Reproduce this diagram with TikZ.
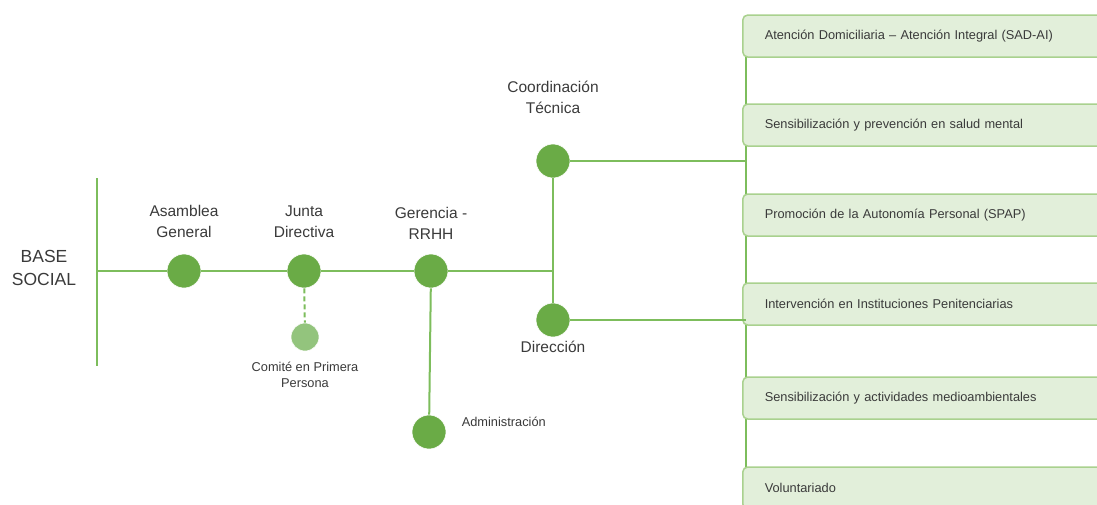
\documentclass[tikz,border=0pt]{standalone}
\usepackage{fontspec}
\setmainfont{Liberation Sans}
\usetikzlibrary{%
    backgrounds,
    positioning
}
\definecolor{dotgreen}{HTML}{6AAB46}
\definecolor{linegreen}{HTML}{7DBD5C}
\definecolor{palegreen}{HTML}{93C47D}
\definecolor{boxfill}{HTML}{E2EFDA}
\definecolor{boxline}{HTML}{A9D18E}
\definecolor{textgray}{HTML}{3A3A3A}
\tikzset{
    orgdot/.style = {circle, fill=dotgreen, draw=white, line width=.6pt, minimum size=34pt, inner sep=0pt},
    subdot/.style = {circle, fill=palegreen, draw=white, line width=.6pt, minimum size=28pt, inner sep=0pt},
    orglabel/.style = {align=center, text=textgray, font=\fontsize{15.5}{21}\selectfont},
    smalllabel/.style = {align=center, text=textgray, font=\fontsize{12.8}{16}\selectfont},
    orgline/.style = {draw=linegreen, line width=2pt},
    areabox/.style = {draw=boxline, fill=boxfill, line width=1.5pt, rounded corners=5pt,
        anchor=west, minimum height=42pt, text width=336pt, inner xsep=22pt, align=left,
        text=textgray, font=\fontsize{12.8}{14}\selectfont}
}

\begin{document}
\begin{tikzpicture}[x=1pt,y=-1pt]
    \useasboundingbox (0,0) rectangle (1097,504);

    % left side
    \node[orglabel, font=\fontsize{17.5}{23}\selectfont] (base) at (44,268) {BASE\\SOCIAL};
    \coordinate (base top) at (97,178);
    \coordinate (base bot) at (97,366);

    \node[orgdot] (asamblea) at (184,271) {};
    \node[orgdot] (junta) at (304,271) {};
    \node[orgdot] (gerencia) at (431,271) {};
    \node[orgdot] (coord) at (553,161) {};
    \node[orgdot] (direccion) at (553,320) {};
    \node[subdot] (comite) at (305,337) {};
    \node[orgdot] (admin) at (429,432) {};

    \node[orglabel] (asamblea-l) [above=13pt of asamblea] {Asamblea\\General};
    \node[orglabel] (junta-l) [above=13pt of junta] {Junta\\Directiva};
    \node[orglabel] (gerencia-l) [above=11pt of gerencia] {Gerencia -\\RRHH};
    \node[orglabel] (coord-l) [above=27pt of coord] {Coordinación\\Técnica};
    \node[orglabel] (direccion-l) [below=0pt of direccion] {Dirección};
    \node[smalllabel] (comite-l) [below=7pt of comite] {Comité en Primera\\Persona};
    \node[smalllabel, anchor=west] (admin-l) [right=12pt of admin, yshift=10pt] {Administración};

    % areas
    \coordinate (spine) at (746,0);
    \foreach \name/\y/\txt in {
        area-1/36/{Atención Domiciliaria -- Atención Integral (SAD-AI)},
        area-2/125/{Sensibilización y prevención en salud mental},
        area-3/215/{Promoción de la Autonomía Personal (SPAP)},
        area-4/304/{Intervención en Instituciones Penitenciarias},
        area-5/398/{Sensibilización y actividades medioambientales},
        area-6/488/{Voluntariado}}
        \node[areabox] (\name) at (742,\y) {\txt};

    \begin{scope}[on background layer]
        \draw[orgline] (area-1 -| spine) -- (area-6 -| spine);
    \end{scope}

    \draw[orgline] (base top) -- (base bot);
    \draw[orgline] (asamblea -| base top) -- (asamblea);
    \draw[orgline] (asamblea) -- (junta);
    \draw[orgline] (junta) -- (gerencia);
    \draw[orgline] (gerencia) -- (gerencia -| coord);
    \draw[orgline] (coord) -- (direccion);
    \draw[orgline] (coord) -- (coord -| spine);
    \draw[orgline] (direccion) -- (direccion -| spine);
    \draw[orgline, dash pattern=on 5pt off 3pt] (junta) -- (comite);
    \draw[orgline] (gerencia) -- (admin);
\end{tikzpicture}
\end{document}
